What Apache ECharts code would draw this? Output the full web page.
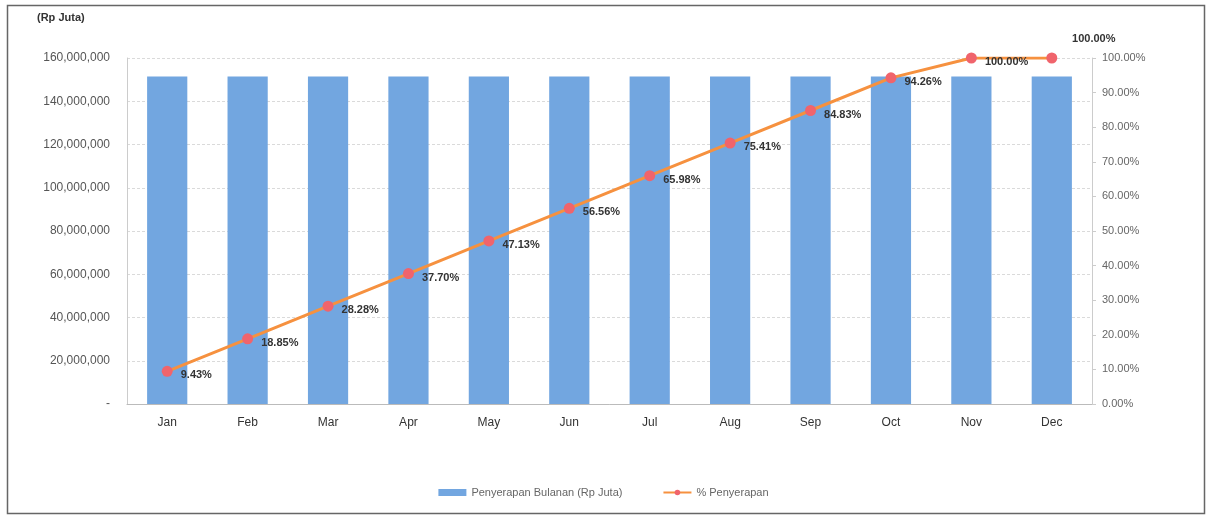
<!DOCTYPE html>
<html>
<head>
<meta charset="utf-8">
<script src="https://cdn.jsdelivr.net/npm/echarts@6/dist/echarts.min.js"></script>
<style>html,body{margin:0;padding:0;background:#fff}#c{width:1207px;height:516px}</style>
</head>
<body>
<div id="c"></div>
<script>
const categories = ['Jan','Feb','Mar','Apr','May','Jun','Jul','Aug','Sep','Oct','Nov','Dec'];
const monthlyValues = [151500000,151500000,151500000,151500000,151500000,151500000,151500000,151500000,151500000,151500000,151500000,151500000];
const percentValues = [9.43,18.85,28.28,37.70,47.13,56.56,65.98,75.41,84.83,94.26,100.00,100.00];
const seriesNames = ['Penyerapan Bulanan (Rp Juta)','% Penyerapan'];
const unitLabel = '(Rp Juta)';

const font = 'Liberation Sans';
const chart = echarts.init(document.getElementById('c'));
const lineData = percentValues.map((v, i) => {
  if (i === percentValues.length - 1) {
    return { value: v, label: { position: 'top', offset: [42, 0] } };
  }
  return v;
});
chart.setOption({
  animation: false,
  textStyle: { fontFamily: font },
  graphic: [
    { type: 'rect', shape: { x: 7.5, y: 5.5, width: 1197, height: 508 }, style: { fill: 'none', stroke: '#666', lineWidth: 1.5 }, silent: true },
    { type: 'text', left: 37, top: 12, style: { text: unitLabel, font: 'bold 11px ' + font, fill: '#333' } }
  ],
  grid: { left: 127, right: 115, top: 58, bottom: 112 },
  legend: {
    bottom: 13, left: 'center', itemGap: 40, itemWidth: 28, itemHeight: 7,
    textStyle: { fontSize: 11, color: '#666', fontFamily: font },
    data: [
      { name: seriesNames[0], icon: 'rect', itemStyle: { color: '#72a6e0' } },
      { name: seriesNames[1] }
    ]
  },
  xAxis: {
    type: 'category', data: categories,
    axisLine: { lineStyle: { color: '#bbb' } },
    axisTick: { show: false },
    axisLabel: { color: '#333', fontSize: 12, margin: 13, fontFamily: font }
  },
  yAxis: [
    {
      type: 'value', min: 0, max: 160000000, interval: 20000000,
      axisLine: { show: true, lineStyle: { color: '#ccc' } },
      axisTick: { show: false },
      splitLine: { lineStyle: { color: '#dadada', type: [3, 2] } },
      axisLabel: {
        color: '#555', fontSize: 12, margin: 17, fontFamily: font,
        formatter: v => v === 0 ? '-' : v.toLocaleString('en-US')
      }
    },
    {
      type: 'value', min: 0, max: 100, interval: 10, position: 'right',
      axisLine: { show: true, lineStyle: { color: '#ccc' } },
      axisTick: { show: true, length: 4, lineStyle: { color: '#ccc' } },
      splitLine: { show: false },
      axisLabel: { color: '#666', fontSize: 11, margin: 10, fontFamily: font, formatter: v => v.toFixed(2) + '%' }
    }
  ],
  series: [
    {
      name: seriesNames[0], type: 'bar', data: monthlyValues, barWidth: '50%',
      itemStyle: { color: '#72a6e0' }
    },
    {
      name: seriesNames[1], type: 'line', yAxisIndex: 1, data: lineData,
      lineStyle: { color: '#f6913f', width: 3 },
      itemStyle: { color: '#f0646c' },
      symbol: 'circle', symbolSize: 11,
      label: {
        show: true, position: 'right', distance: 8, offset: [0, 4],
        color: '#333', fontWeight: 'bold', fontSize: 11, fontFamily: font,
        formatter: p => p.value.toFixed(2) + '%'
      }
    }
  ]
});
</script>
</body>
</html>
